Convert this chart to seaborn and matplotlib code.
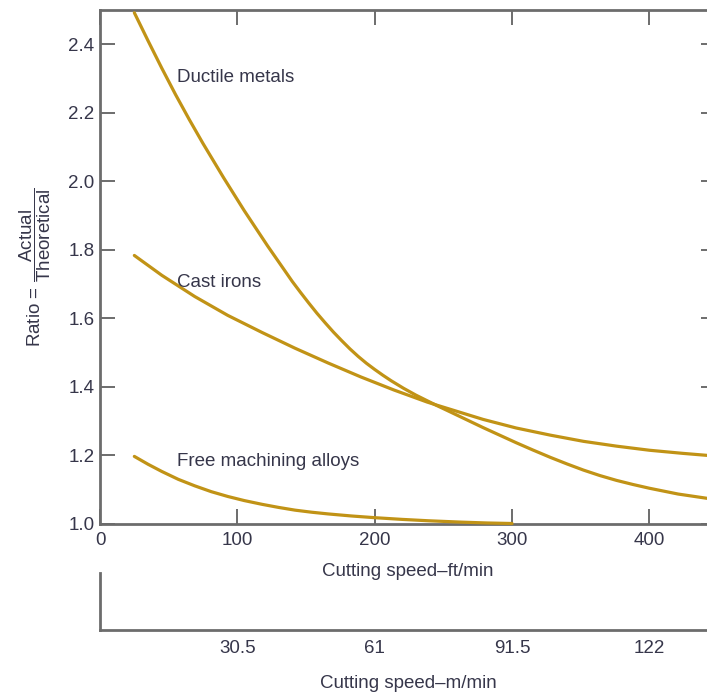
import matplotlib
matplotlib.use("Agg")
import matplotlib.pyplot as plt
import seaborn as sns
import pandas as pd

# Cutting speed (ft/min) vs ratio actual/theoretical
speed_ductile = [25, 35, 45, 55, 65, 75, 90, 105, 122, 140, 146, 152, 158, 164, 170, 176,
                 182, 188, 194, 200, 206, 212, 221, 230, 245, 255, 267, 279, 291, 303,
                 315, 328, 340, 352, 364, 376, 388, 400, 421, 448]
ratio_ductile = [2.492, 2.410, 2.330, 2.253, 2.180, 2.110, 2.010, 1.914, 1.811, 1.707, 1.675,
                 1.644, 1.614, 1.586, 1.559, 1.534, 1.510, 1.488, 1.468, 1.450, 1.433,
                 1.417, 1.395, 1.375, 1.345, 1.326, 1.303, 1.280, 1.258, 1.236, 1.215,
                 1.193, 1.174, 1.156, 1.140, 1.126, 1.114, 1.103, 1.086, 1.070]

speed_cast = [25, 45, 69, 93, 118, 142, 166, 190, 214, 238, 245, 262, 279, 303, 328,
              352, 376, 400, 424, 448]
ratio_cast = [1.783, 1.725, 1.663, 1.608, 1.558, 1.512, 1.469, 1.428, 1.390, 1.355, 1.346,
              1.325, 1.304, 1.279, 1.258, 1.240, 1.226, 1.214, 1.205, 1.197]

speed_free = [25, 35, 45, 57, 69, 81, 93, 105, 118, 130, 142, 154, 166, 183, 200, 220,
              239, 263, 282, 300]
ratio_free = [1.196, 1.173, 1.152, 1.129, 1.110, 1.093, 1.079, 1.067, 1.056, 1.047, 1.039,
              1.033, 1.028, 1.022, 1.017, 1.012, 1.008, 1.004, 1.0015, 1.0]

curve_names = ["Ductile metals", "Cast irons", "Free machining alloys"]
label_pos = [(56, 2.303), (56, 1.705), (56, 1.180)]

ft_ticks = [0, 100, 200, 300, 400]
m_ticks = [30.5, 61, 91.5, 122]
m_labels = ["30.5", "61", "91.5", "122"]
y_ticks = [1.0, 1.2, 1.4, 1.6, 1.8, 2.0, 2.2, 2.4]

sns.set_theme(style="white")
plt.rcParams["font.family"] = ["Liberation Sans", "DejaVu Sans"]
plt.rcParams["mathtext.fontset"] = "custom"
plt.rcParams["mathtext.rm"] = "Liberation Sans"

gold = "#C19316"
axis_col = "#6c6c6c"
text_col = "#36364a"
fs = 13.5

df = pd.concat([
    pd.DataFrame({"speed": speed_ductile, "ratio": ratio_ductile, "curve": curve_names[0]}),
    pd.DataFrame({"speed": speed_cast, "ratio": ratio_cast, "curve": curve_names[1]}),
    pd.DataFrame({"speed": speed_free, "ratio": ratio_free, "curve": curve_names[2]}),
])

W, H = 707, 693
fig = plt.figure(figsize=(W / 100, H / 100), dpi=100)
ax = fig.add_axes([100 / W, 1 - 523.5 / H, 616 / W, 513.5 / H])
ax2 = fig.add_axes([100 / W, 1 - 630 / H, 616 / W, 57 / H])

sns.lineplot(data=df, x="speed", y="ratio", hue="curve", units="curve", estimator=None,
             palette=[gold] * 3, linewidth=2.3, legend=False, sort=False,
             clip_on=False, zorder=3, ax=ax)

for name, (tx, ty) in zip(curve_names, label_pos):
    ax.text(tx, ty, name, fontsize=fs, color=text_col, ha="left", va="center")

xmax = 448.5
ax.set_xlim(0, xmax)
ax.set_ylim(1.0, 2.5)
ax.set_xticks(ft_ticks)
ax.set_yticks(y_ticks)
ax.set_yticklabels([f"{v:.1f}" for v in y_ticks])

for side in ["left", "bottom", "top"]:
    ax.spines[side].set_color(axis_col)
    ax.spines[side].set_linewidth(2)
ax.spines["right"].set_visible(False)

ax.tick_params(axis="both", direction="in", length=11, width=1.4, color=axis_col,
               labelsize=fs, labelcolor=text_col)
ax.tick_params(axis="x", top=True, bottom=True, pad=6)
ax.tick_params(axis="y", left=True, right=True, pad=4)

ax.set_xlabel("Cutting speed\u2013ft/min", fontsize=fs, color=text_col, va="center")
ax.xaxis.set_label_coords(0.5, (523.5 - 571) / 513.5)
ax.set_ylabel(r"Ratio = $\dfrac{\mathrm{Actual}}{\mathrm{Theoretical}}$",
              fontsize=fs, color=text_col, va="center")
ax.yaxis.set_label_coords(-65 / 616, 0.5)

# second scale in m/min under the main axis
ax2.set_xlim(0, xmax * 0.305)
ax2.set_ylim(0, 1)
ax2.set_xticks(m_ticks)
ax2.set_xticklabels(m_labels)
ax2.set_yticks([])
ax2.patch.set_alpha(0)
ax2.spines["top"].set_visible(False)
ax2.spines["right"].set_visible(False)
for side in ["left", "bottom"]:
    ax2.spines[side].set_color(axis_col)
    ax2.spines[side].set_linewidth(2)
ax2.tick_params(axis="x", direction="in", length=11, width=1.4, color=axis_col,
                labelsize=fs, labelcolor=text_col, pad=7)
ax2.set_xlabel("Cutting speed\u2013m/min", fontsize=fs, color=text_col, va="center")
ax2.xaxis.set_label_coords(0.5, (630 - 683) / 57)

fig.savefig("out.png", dpi=100)
plt.close(fig)
